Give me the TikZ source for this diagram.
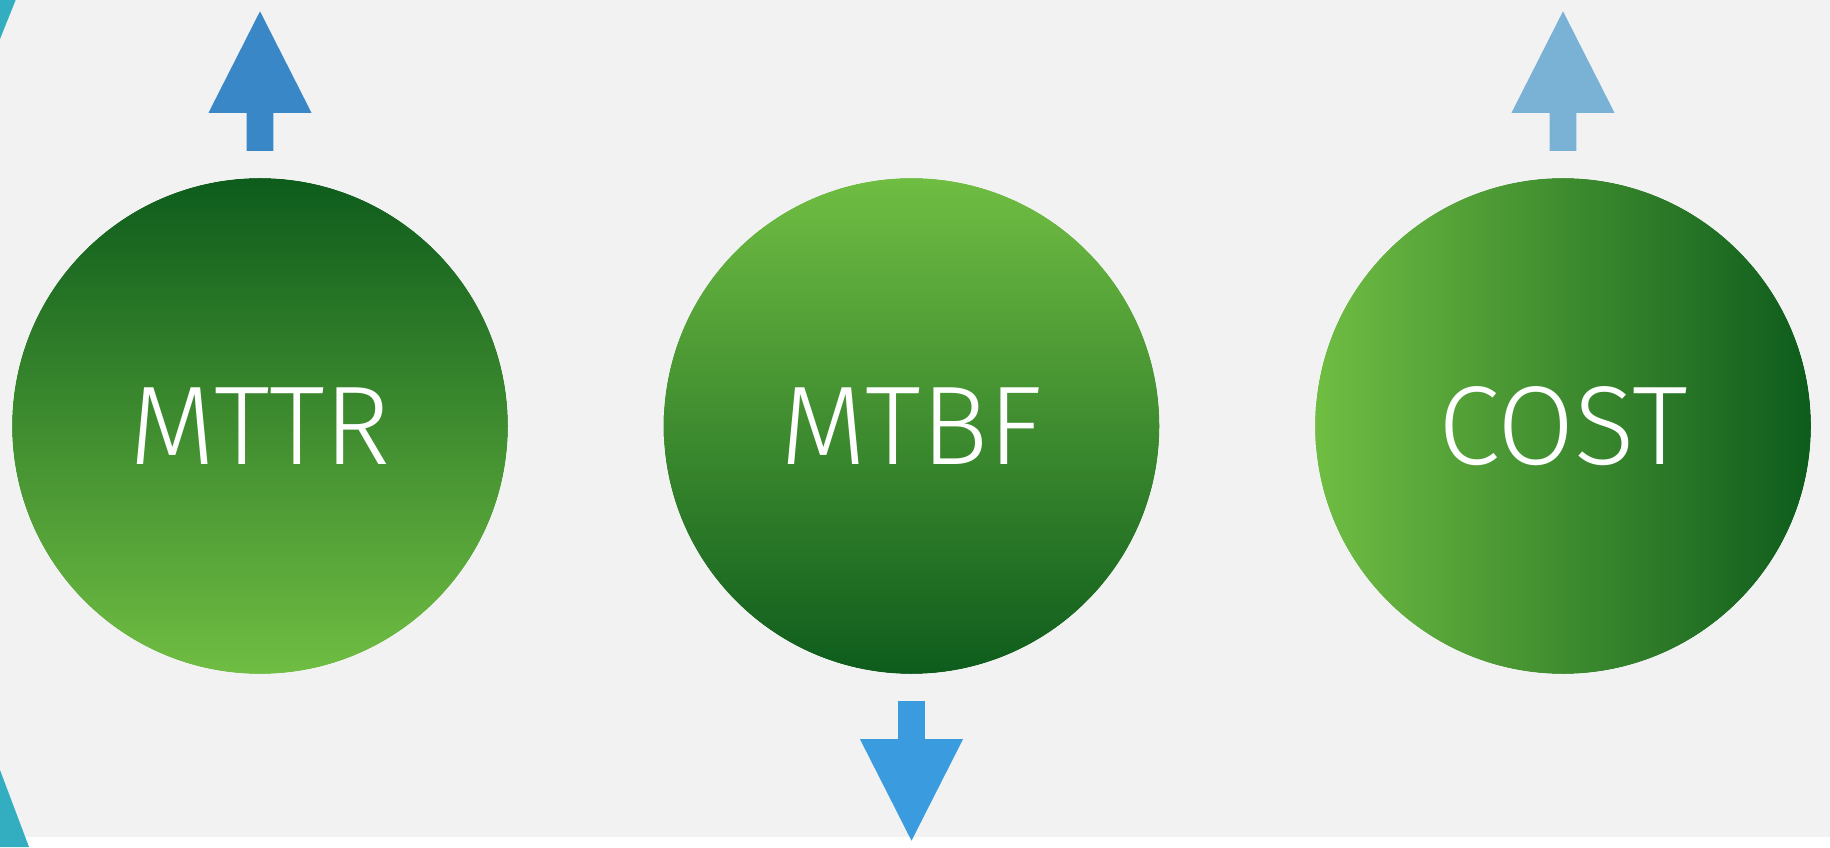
\documentclass[tikz,border=0pt]{standalone}
\usepackage{fontspec}
\newfontfamily\thinfont{Fira Sans Light}
\usepackage{tikz}
\usetikzlibrary{positioning, calc}
\usepackage{xcolor}
\definecolor{pagegray}{RGB}{242,242,242}
\definecolor{darkgreen}{RGB}{14,92,28}
\definecolor{lightgreen}{RGB}{112,189,67}
\definecolor{tealcyan}{RGB}{51,174,192}
\definecolor{mttrblue}{RGB}{58,135,200}
\definecolor{mtbfblue}{RGB}{58,155,222}
\definecolor{costblue}{RGB}{122,178,214}
\tikzset{metricnode/.style={circle, minimum size=496pt, inner sep=0pt, text=white, font=\thinfont\fontsize{112}{112}\selectfont}}

\begin{document}
\begin{tikzpicture}[
        x=1pt, y=1pt,
        metricnode/.style={circle, minimum size=496pt, inner sep=0pt, text=white, font=\thinfont\fontsize{112}{112}\selectfont}
    ]
        % Background
        \useasboundingbox (0pt, 0pt) rectangle (1830pt, 847pt);
        \fill[white] (0pt, 0pt) rectangle (1830pt, 847pt);
        \fill[pagegray] (0pt, 10.3pt) rectangle (1830pt, 847pt);
        % Corner pieces
        \fill[tealcyan] (0pt, 847pt) -- (15.7pt, 847pt) -- (0pt, 808pt) -- cycle;
        \fill[tealcyan] (0pt, 77pt) -- (29pt, 0pt) -- (0pt, 0pt) -- cycle;
        % Circles
        \node[metricnode] (mttr) at (260pt, 421pt) {};
        \node[metricnode] (mtbf) at (911.5pt, 421pt) {};
        \node[metricnode] (cost) at (1563pt, 421pt) {};
        \shade[top color=darkgreen, bottom color=lightgreen] (mttr.center) circle (248pt);
        \shade[top color=lightgreen, bottom color=darkgreen] (mtbf.center) circle (248pt);
        \shade[left color=lightgreen, right color=darkgreen] (cost.center) circle (248pt);
        \foreach \name in {mttr, mtbf, cost} {
            \draw[pagegray, line width=2pt] (\name.center) circle (249pt);
        }
        % Labels
        \foreach \name/\txt in {mttr/MTTR, mtbf/MTBF, cost/COST} {
            \node[text=white, font=\thinfont\fontsize{112}{112}\selectfont] at (\name.center) {\txt};
        }
        % Arrows
        \foreach \name/\anchor/\d/\col in {
            mttr/north/1/mttrblue,
            mtbf/south/-1/mtbfblue,
            cost/north/1/costblue} {
            \fill[\col, shift={(\name.\anchor)}, yscale=\d] (-13.3pt, 27pt) -- (-13.3pt, 65pt) -- (-51.5pt, 65pt) -- (0pt, 166.5pt) -- (51.5pt, 65pt) -- (13.3pt, 65pt) -- (13.3pt, 27pt) -- cycle;
        }
    \end{tikzpicture}
\end{document}
